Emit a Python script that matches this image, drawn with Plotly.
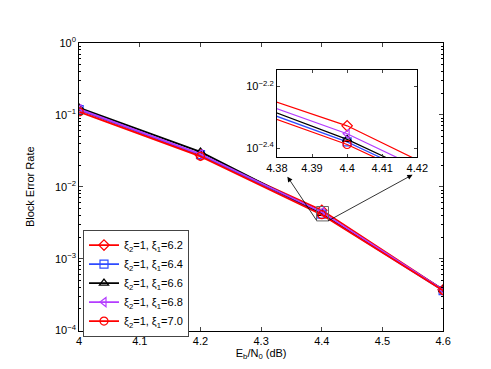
import plotly.graph_objects as go

# Eb/N0 points (dB)
snr = [4.0, 4.2, 4.4, 4.6]

# block error rate for each xi_1 (xi_2 = 1)
bler_62 = [0.117, 0.0275, 0.00470, 0.00037]
bler_64 = [0.118, 0.0280, 0.00417, 0.00036]
bler_66 = [0.125, 0.0305, 0.00425, 0.00037]
bler_68 = [0.120, 0.0285, 0.00443, 0.00037]
bler_70 = [0.110, 0.0265, 0.00409, 0.00036]

names = ["6.2", "6.4", "6.6", "6.8", "7.0"]
series = [bler_62, bler_64, bler_66, bler_68, bler_70]
colors = ["#FF0000", "#2E4BFF", "#000000", "#B43CFF", "#FF0000"]
symbols = ["diamond-open", "square-open", "triangle-up-open", "triangle-left-open", "circle-open"]

xticks = [4.0, 4.1, 4.2, 4.3, 4.4, 4.5, 4.6]
yticks = [1, 0.1, 0.01, 0.001, 0.0001]
ytext = ["10<sup>0</sup>", "10<sup>−1</sup>", "10<sup>−2</sup>", "10<sup>−3</sup>", "10<sup>−4</sup>"]
minor_y = [m * 10.0 ** e for e in range(-4, 0) for m in range(2, 10)]

inset_xticks = [4.38, 4.39, 4.40, 4.41, 4.42]
inset_yticks = [10 ** -2.2, 10 ** -2.4]
inset_ytext = ["10<sup>−2.2</sup>", "10<sup>−2.4</sup>"]

fig = go.Figure()

# main curves
for n, s, c, m in zip(names, series, colors, symbols):
    fig.add_trace(go.Scatter(x=snr, y=s, mode="lines+markers", name="ξ<sub>2</sub>=1, ξ<sub>1</sub>=" + n,
                             line=dict(color=c, width=1.8),
                             marker=dict(symbol=m, size=8, color=c, line=dict(width=1.2, color=c))))

# zoomed copy
for n, s, c, m in zip(names, series, colors, symbols):
    fig.add_trace(go.Scatter(x=snr, y=s, mode="lines+markers", showlegend=False,
                             xaxis="x2", yaxis="y2",
                             line=dict(color=c, width=1.2),
                             marker=dict(symbol=m, size=8, color=c, line=dict(width=1.2, color=c))))

axfont = dict(family="Liberation Sans, Arial, sans-serif", size=11, color="black")

fig.update_layout(
    width=491, height=369,
    margin=dict(l=0, r=0, t=0, b=0),
    paper_bgcolor="white", plot_bgcolor="white",
    font=axfont,
    xaxis=dict(domain=[63 / 491, 444 / 491], range=[4, 4.6], tickvals=xticks,
               ticktext=["4", "4.1", "4.2", "4.3", "4.4", "4.5", "4.6"],
               ticks="inside", ticklen=4, showline=True, linecolor="black", linewidth=1,
               mirror="allticks", showgrid=False, zeroline=False, anchor="y",
               title=dict(text="E<sub>b</sub>/N<sub>0</sub> (dB)", standoff=0, font=axfont)),
    yaxis=dict(domain=[(369 - 327) / 369, (369 - 28) / 369], type="log", range=[-4, 0],
               tickvals=yticks, ticktext=ytext,
               ticks="inside", ticklen=4, showline=True, linecolor="black", linewidth=1,
               mirror="allticks", showgrid=False, zeroline=False, anchor="x",
               minor=dict(tickvals=minor_y, ticks="inside", ticklen=2, tickcolor="black", showgrid=False),
               title=dict(text="Block Error Rate", standoff=18, font=axfont)),
    xaxis2=dict(domain=[270 / 491, 417 / 491], range=[4.38, 4.42], tickvals=inset_xticks,
                ticktext=["4.38", "4.39", "4.4", "4.41", "4.42"],
                ticks="inside", ticklen=3, showline=True, linecolor="black", linewidth=1,
                mirror="allticks", showgrid=False, zeroline=False, anchor="y2"),
    yaxis2=dict(domain=[(369 - 147) / 369, (369 - 56) / 369], type="log", range=[-2.43, -2.147],
                tickvals=inset_yticks, ticktext=inset_ytext,
                ticks="inside", ticklen=3, showline=True, linecolor="black", linewidth=1,
                mirror="allticks", showgrid=False, zeroline=False, anchor="x2"),
    legend=dict(x=67 / 491, y=(369 - 222) / 369, xanchor="left", yanchor="top",
                bgcolor="white", bordercolor="#444", borderwidth=1,
                font=dict(family="Liberation Sans, Arial, sans-serif", size=11, color="black"),
                tracegroupgap=0, itemwidth=30),
    showlegend=True,
)

# zoom box on the main plot
fig.add_shape(type="rect", xref="paper", yref="paper",
              x0=311.5 / 491, x1=324 / 491, y0=(369 - 213) / 369, y1=(369 - 198) / 369,
              line=dict(color="#666", width=1))

# arrows to the inset
fig.add_annotation(xref="paper", yref="paper", x=281 / 491, y=(369 - 167) / 369,
                   axref="pixel", ayref="pixel", ax=30, ay=45, text="", showarrow=True,
                   arrowhead=2, arrowsize=1.3, arrowwidth=0.8, arrowcolor="black")
fig.add_annotation(xref="paper", yref="paper", x=412 / 491, y=(369 - 165) / 369,
                   axref="pixel", ayref="pixel", ax=-86, ay=47, text="", showarrow=True,
                   arrowhead=2, arrowsize=1.3, arrowwidth=0.8, arrowcolor="black")

fig.write_html("out.html")
